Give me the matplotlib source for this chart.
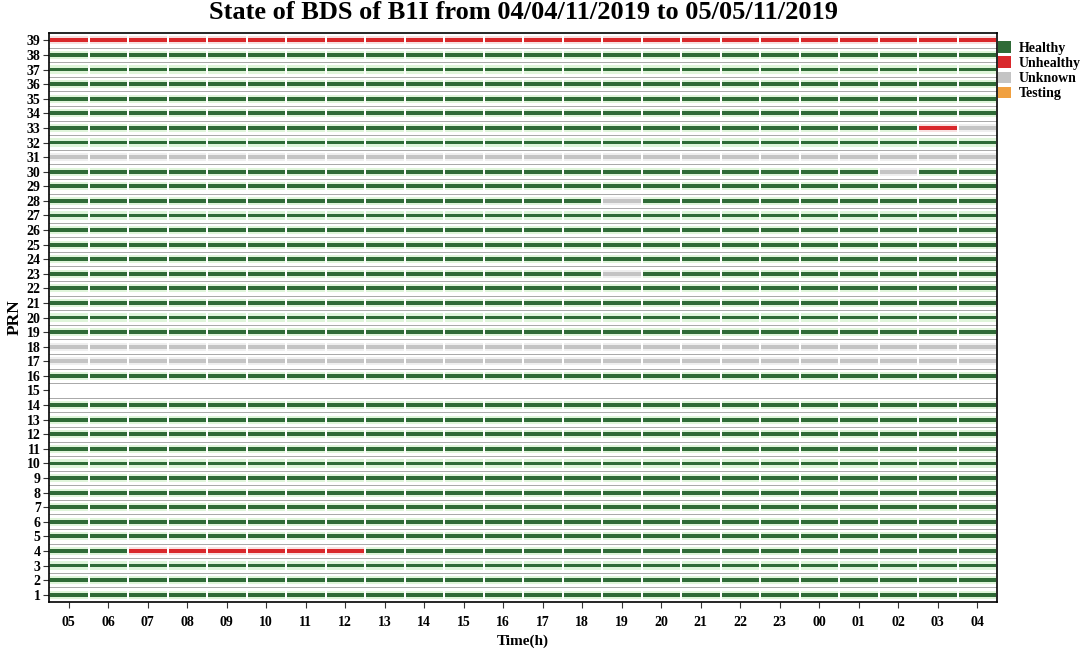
import matplotlib
matplotlib.use("Agg")
import matplotlib.pyplot as plt
from matplotlib.patches import Patch

plt.rcParams['font.family'] = ['Liberation Serif', 'DejaVu Serif']

hours = ["05", "06", "07", "08", "09", "10", "11", "12", "13", "14", "15", "16",
         "17", "18", "19", "20", "21", "22", "23", "00", "01", "02", "03", "04"]
prns = list(range(1, 40))

# H = Healthy, U = Unhealthy, N = Unknown, T = Testing, - = no data
status = {
    39: "UUUUUUUUUUUUUUUUUUUUUUUU",
    38: "HHHHHHHHHHHHHHHHHHHHHHHH",
    37: "HHHHHHHHHHHHHHHHHHHHHHHH",
    36: "HHHHHHHHHHHHHHHHHHHHHHHH",
    35: "HHHHHHHHHHHHHHHHHHHHHHHH",
    34: "HHHHHHHHHHHHHHHHHHHHHHHH",
    33: "HHHHHHHHHHHHHHHHHHHHHHUN",
    32: "HHHHHHHHHHHHHHHHHHHHHHHH",
    31: "NNNNNNNNNNNNNNNNNNNNNNNN",
    30: "HHHHHHHHHHHHHHHHHHHHHNHH",
    29: "HHHHHHHHHHHHHHHHHHHHHHHH",
    28: "HHHHHHHHHHHHHHNHHHHHHHHH",
    27: "HHHHHHHHHHHHHHHHHHHHHHHH",
    26: "HHHHHHHHHHHHHHHHHHHHHHHH",
    25: "HHHHHHHHHHHHHHHHHHHHHHHH",
    24: "HHHHHHHHHHHHHHHHHHHHHHHH",
    23: "HHHHHHHHHHHHHHNHHHHHHHHH",
    22: "HHHHHHHHHHHHHHHHHHHHHHHH",
    21: "HHHHHHHHHHHHHHHHHHHHHHHH",
    20: "HHHHHHHHHHHHHHHHHHHHHHHH",
    19: "HHHHHHHHHHHHHHHHHHHHHHHH",
    18: "NNNNNNNNNNNNNNNNNNNNNNNN",
    17: "NNNNNNNNNNNNNNNNNNNNNNNN",
    16: "HHHHHHHHHHHHHHHHHHHHHHHH",
    15: "------------------------",
    14: "HHHHHHHHHHHHHHHHHHHHHHHH",
    13: "HHHHHHHHHHHHHHHHHHHHHHHH",
    12: "HHHHHHHHHHHHHHHHHHHHHHHH",
    11: "HHHHHHHHHHHHHHHHHHHHHHHH",
    10: "HHHHHHHHHHHHHHHHHHHHHHHH",
    9:  "HHHHHHHHHHHHHHHHHHHHHHHH",
    8:  "HHHHHHHHHHHHHHHHHHHHHHHH",
    7:  "HHHHHHHHHHHHHHHHHHHHHHHH",
    6:  "HHHHHHHHHHHHHHHHHHHHHHHH",
    5:  "HHHHHHHHHHHHHHHHHHHHHHHH",
    4:  "HHUUUUUUHHHHHHHHHHHHHHHH",
    3:  "HHHHHHHHHHHHHHHHHHHHHHHH",
    2:  "HHHHHHHHHHHHHHHHHHHHHHHH",
    1:  "HHHHHHHHHHHHHHHHHHHHHHHH",
}

state_names = ["Healthy", "Unhealthy", "Unknown", "Testing"]
state_codes = ["H", "U", "N", "T"]
dark = {"H": "#2f6b37", "U": "#d9282c", "N": "#c4c4c4", "T": "#f0a040"}
halo = {"H": "#dff5da", "U": "#f8e0e0", "N": "#efefef", "T": "#fbe8cc"}

fig = plt.figure(figsize=(10.8, 6.49), dpi=100)
ax = fig.add_axes([0.0454, 0.0724, 0.8778, 0.8766])

gap = 0.025
for prn in prns:
    row = status[prn]
    for i, c in enumerate(row):
        if c == "-":
            continue
        ax.broken_barh([(i - 0.5 + gap, 1 - 2 * gap)], (prn - 0.28, 0.56),
                       facecolors=halo[c], edgecolor="none", zorder=2)
        ax.broken_barh([(i - 0.5 + gap, 1 - 2 * gap)], (prn - 0.13, 0.26),
                       facecolors=dark[c], edgecolor="none", zorder=3)

for k in range(1, len(prns)):
    ax.axhline(k + 0.5, color="#a8a8a8", lw=0.7, zorder=1)

ax.set_xlim(-0.5, len(hours) - 0.5)
ax.set_ylim(0.5, len(prns) + 0.5)
ax.set_xticks(range(len(hours)))
ax.set_xticklabels(hours, fontsize=10, fontweight="bold")
ax.set_yticks(prns)
ax.set_yticklabels([str(p) for p in prns], fontsize=10, fontweight="bold")
ax.tick_params(axis="both", direction="out", length=4, width=0.8, colors="#333333",
               labelcolor="black")
ax.tick_params(axis="x", pad=6)
ax.tick_params(axis="y", pad=2)
for s in ax.spines.values():
    s.set_linewidth(1.2)
    s.set_color("black")

ax.set_xlabel("Time(h)", fontsize=11, fontweight="bold", labelpad=4)
ax.set_ylabel("PRN", fontsize=12.5, fontweight="bold", labelpad=3)
fig.text(0.4843, 0.981, "State of BDS of B1I from 04/04/11/2019 to 05/05/11/2019",
         fontsize=19, fontweight="bold", ha="center", va="center")

handles = [Patch(facecolor=dark[c], edgecolor="none") for c in state_codes]
leg = fig.legend(handles, state_names, loc="upper left", bbox_to_anchor=(0.919, 0.945),
                 frameon=False, prop={"size": 10, "weight": "bold"},
                 handlelength=0.9, handleheight=0.9, handletextpad=0.6,
                 labelspacing=0.12, borderaxespad=0.0)

fig.savefig("out.png", dpi=100)
